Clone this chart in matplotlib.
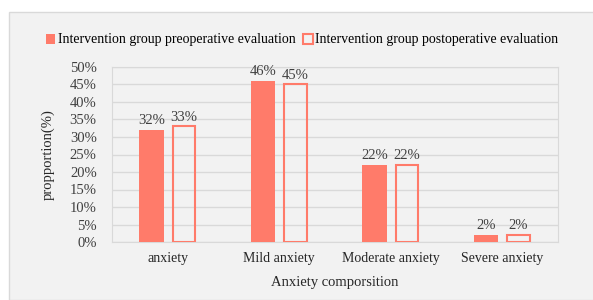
import matplotlib
matplotlib.use("Agg")
import matplotlib.pyplot as plt
import numpy as np
from matplotlib.patches import Rectangle

categories = ["anxiety", "Mild anxiety", "Moderate anxiety", "Severe anxiety"]
pre = [32, 46, 22, 2]
post = [33, 45, 22, 2]
series_names = ["Intervention group preoperative evaluation",
                "Intervention group postoperative evaluation"]
yticks = [0, 5, 10, 15, 20, 25, 30, 35, 40, 45, 50]

plt.rcParams['font.family'] = ['Liberation Serif', 'DejaVu Serif']
W, H = 593, 300
fig = plt.figure(figsize=(W/100, H/100), dpi=100)
fig.patch.set_facecolor('white')
# chart background box
fig.patches.append(Rectangle((9/W, 0), 1, 1 - 12/H, transform=fig.transFigure,
                             facecolor='#f2f2f2', edgecolor='#d9d9d9', lw=1, zorder=-10))

ax = fig.add_axes([112/W, 1 - 242/H, (558-112)/W, (242-67)/H])
ax.set_facecolor('#f2f2f2')
color = '#FF7B6A'
x = np.arange(len(categories))
bw = 0.22
off = 0.145
ax.bar(x - off, pre, width=bw, color=color, zorder=3, label=series_names[0])
ax.bar(x + off, post, width=bw - 0.02, facecolor='none', edgecolor=color, lw=1.5,
       zorder=3, label=series_names[1])
for xi, v in zip(x - off, pre):
    ax.text(xi, v + 0.8, f"{v}%", ha='center', va='bottom', fontsize=10.5, color='#404040')
for xi, v in zip(x + off, post):
    ax.text(xi, v + 0.8, f"{v}%", ha='center', va='bottom', fontsize=10.5, color='#404040')

ax.set_xlim(-0.5, len(categories) - 0.5)
ax.set_ylim(0, 50)
ax.set_yticks(yticks)
ax.set_yticklabels([f"{t}%" for t in yticks], fontsize=10.5, color='#404040')
ax.set_xticks(x)
ax.set_xticklabels(categories, fontsize=10, color='#262626')
ax.tick_params(axis='y', length=0, pad=11)
ax.tick_params(axis='x', length=0, pad=7)
ax.grid(axis='y', color='#d9d9d9', lw=1, zorder=0)
for s in ['top', 'right', 'left', 'bottom']:
    ax.spines[s].set_color('#d9d9d9')
ax.set_axisbelow(True)

ax.set_ylabel("propportion(%)", fontsize=10.5, color='#262626', labelpad=11)
ax.set_xlabel("Anxiety comporsition", fontsize=10.5, color='#262626', labelpad=8)

fig.legend(loc='center', bbox_to_anchor=(302/W, 1 - 40/H), ncol=2, frameon=False,
           fontsize=10, handlelength=0.7, handleheight=0.7, handletextpad=0.2,
           columnspacing=0.5)

fig.savefig("out.png", dpi=100, facecolor=fig.get_facecolor())
